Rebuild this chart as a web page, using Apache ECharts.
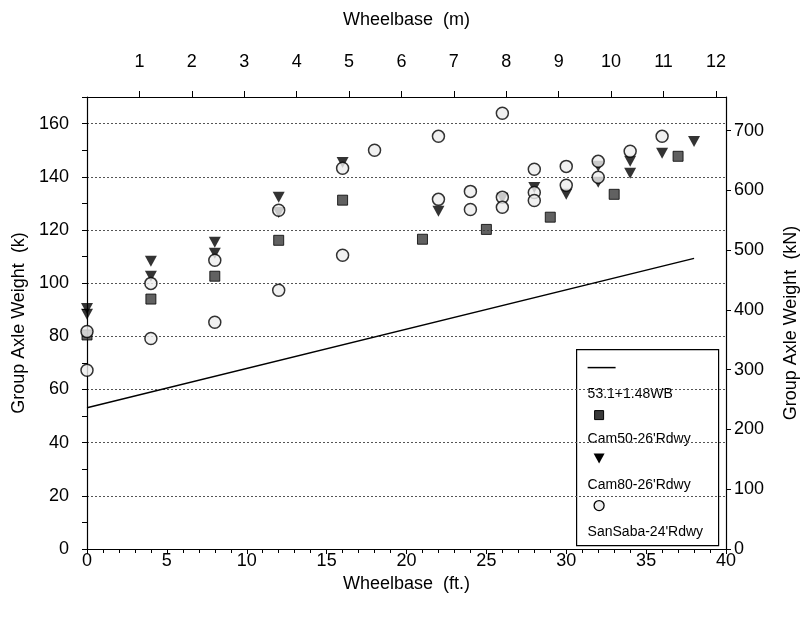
<!DOCTYPE html>
<html>
<head>
<meta charset="utf-8">
<script src="https://cdn.jsdelivr.net/npm/echarts@6/dist/echarts.min.js"></script>
<style>
html,body{margin:0;padding:0;background:#fff;}
#chart{width:808px;height:618px;}
</style>
</head>
<body>
<div id="chart"></div>
<script>
// ---- data (wheelbase ft, group axle weight k) ----
const fitLine = [[0, 53.1], [38, 109.3]];
const cam50 = [[0,80.5],[4,94],[8,102.6],[12,116.1],[16,131.2],[21,116.5],[25,120.2],[29,124.8],[33,133.4],[37,147.7]];
const cam80 = [[0,90.5],[0,88.3],[4,108.2],[4,102.6],[8,115.4],[8,111.2],[12,132.3],[12,126.6],[16,145.4],[22,127],[26,131.9],[28,136],[30,133.4],[32,144],[32,137.9],[34,145.8],[34,141.3],[36,148.8],[38,153.3]];
const sanSaba = [[0,81.8],[0,67.2],[4,99.9],[4,79.2],[8,108.6],[8,85.3],[12,127.4],[12,97.3],[16,143.2],[16,110.5],[18,150],[22,155.2],[22,131.5],[24,134.5],[24,127.7],[26,163.9],[26,132.3],[26,128.5],[28,142.8],[28,134.1],[28,131.1],[30,143.9],[30,136.8],[32,145.8],[32,139.8],[34,149.6],[36,155.2]];
const seriesNames = ['53.1+1.48WB', "Cam50-26'Rdwy", "Cam80-26'Rdwy", "SanSaba-24'Rdwy"];
const axisNames = { bottom: 'Wheelbase  (ft.)', top: 'Wheelbase  (m)', left: 'Group Axle Weight  (k)', right: 'Group Axle Weight  (kN)' };

const FT_MAX = 40, K_MAX = 170;
const M_MAX = FT_MAX * 0.3048;
const KN_MAX = K_MAX * 4.448222;

const font = 'Liberation Sans, Arial, sans-serif';
const ink = '#000';
const chart = echarts.init(document.getElementById('chart'), null, {renderer: 'canvas'});

const axisCommon = {
  axisLine: {show: true, onZero: false, lineStyle: {color: ink, width: 1.2}},
  axisTick: {show: true, length: 5, lineStyle: {color: ink}},
  axisLabel: {color: ink, fontFamily: font, fontSize: 18},
  nameTextStyle: {color: ink, fontFamily: font, fontSize: 18},
  splitLine: {show: false}
};

const LG = {x: 576, y: 349, w: 142, h: 196};

chart.setOption({
  backgroundColor: '#fff',
  animation: false,
  grid: {left: 87, right: 82, top: 97, bottom: 69},
  xAxis: [
    Object.assign({}, axisCommon, {
      type: 'value', position: 'bottom', min: 0, max: FT_MAX, interval: 5,
      name: axisNames.bottom, nameLocation: 'middle', nameGap: 16,
      axisLabel: Object.assign({}, axisCommon.axisLabel, {margin: 3}),
      minorTick: {show: true, splitNumber: 5, length: 4, lineStyle: {color: ink}}
    }),
    Object.assign({}, axisCommon, {
      type: 'value', position: 'top', min: 0, max: M_MAX, interval: 1,
      name: axisNames.top, nameLocation: 'middle', nameGap: 68,
      axisLabel: Object.assign({}, axisCommon.axisLabel, {margin: 26, showMinLabel: false, showMaxLabel: false}),
      axisTick: {show: true, length: 6, lineStyle: {color: ink}}
    })
  ],
  yAxis: [
    Object.assign({}, axisCommon, {
      type: 'value', position: 'left', min: 0, max: K_MAX, interval: 20,
      name: axisNames.left, nameLocation: 'middle', nameGap: 56,
      axisLabel: Object.assign({}, axisCommon.axisLabel, {margin: 18, showMaxLabel: false}),
      minorTick: {show: true, splitNumber: 2, length: 5, lineStyle: {color: ink}},
      splitLine: {show: true, lineStyle: {color: '#555', type: [2, 2], width: 1}}
    }),
    Object.assign({}, axisCommon, {
      type: 'value', position: 'right', min: 0, max: KN_MAX, interval: 100,
      name: axisNames.right, nameLocation: 'middle', nameGap: 56,
      axisLabel: Object.assign({}, axisCommon.axisLabel, {margin: 8, showMaxLabel: false})
    })
  ],
  series: [
    {name: seriesNames[0], type: 'line', data: fitLine, xAxisIndex: 0, yAxisIndex: 0,
     showSymbol: false, lineStyle: {color: ink, width: 1.5}, z: 2},
    {name: seriesNames[1], type: 'scatter', data: cam50, xAxisIndex: 0, yAxisIndex: 0,
     symbol: 'rect', symbolSize: 10, itemStyle: {color: '#3a3a3a', borderColor: ink, borderWidth: 1}, z: 3},
    {name: seriesNames[2], type: 'scatter', data: cam80, xAxisIndex: 0, yAxisIndex: 0,
     symbol: 'triangle', symbolRotate: 180, symbolSize: [12, 11], itemStyle: {color: ink}, z: 4},
    {name: seriesNames[3], type: 'scatter', data: sanSaba, xAxisIndex: 0, yAxisIndex: 0,
     symbol: 'circle', symbolSize: 12, itemStyle: {color: '#eeeeee', borderColor: ink, borderWidth: 1.5}, z: 5}
  ],
  graphic: [
    {type: 'group', left: LG.x, top: LG.y, z: 100, children: [
      {type: 'rect', shape: {x: 0, y: 0, width: LG.w, height: LG.h}, style: {fill: '#fff', stroke: ink, lineWidth: 1.2}},
      {type: 'line', shape: {x1: 11, y1: 18, x2: 39, y2: 18}, style: {stroke: ink, lineWidth: 1.5}},
      {type: 'text', x: 11, y: 45, style: {text: seriesNames[0], fill: ink, font: '14px ' + font, verticalAlign: 'middle'}},
      {type: 'rect', shape: {x: 18, y: 61, width: 9, height: 9}, style: {fill: '#3a3a3a', stroke: ink, lineWidth: 1}},
      {type: 'text', x: 11, y: 90, style: {text: seriesNames[1], fill: ink, font: '14px ' + font, verticalAlign: 'middle'}},
      {type: 'polygon', shape: {points: [[17, 104], [28, 104], [22.5, 114]]}, style: {fill: ink}},
      {type: 'text', x: 11, y: 136, style: {text: seriesNames[2], fill: ink, font: '14px ' + font, verticalAlign: 'middle'}},
      {type: 'circle', shape: {cx: 22.5, cy: 156, r: 5}, style: {fill: '#eeeeee', stroke: ink, lineWidth: 1.3}},
      {type: 'text', x: 11, y: 183, style: {text: seriesNames[3], fill: ink, font: '14px ' + font, verticalAlign: 'middle'}}
    ]}
  ]
});
</script>
</body>
</html>
